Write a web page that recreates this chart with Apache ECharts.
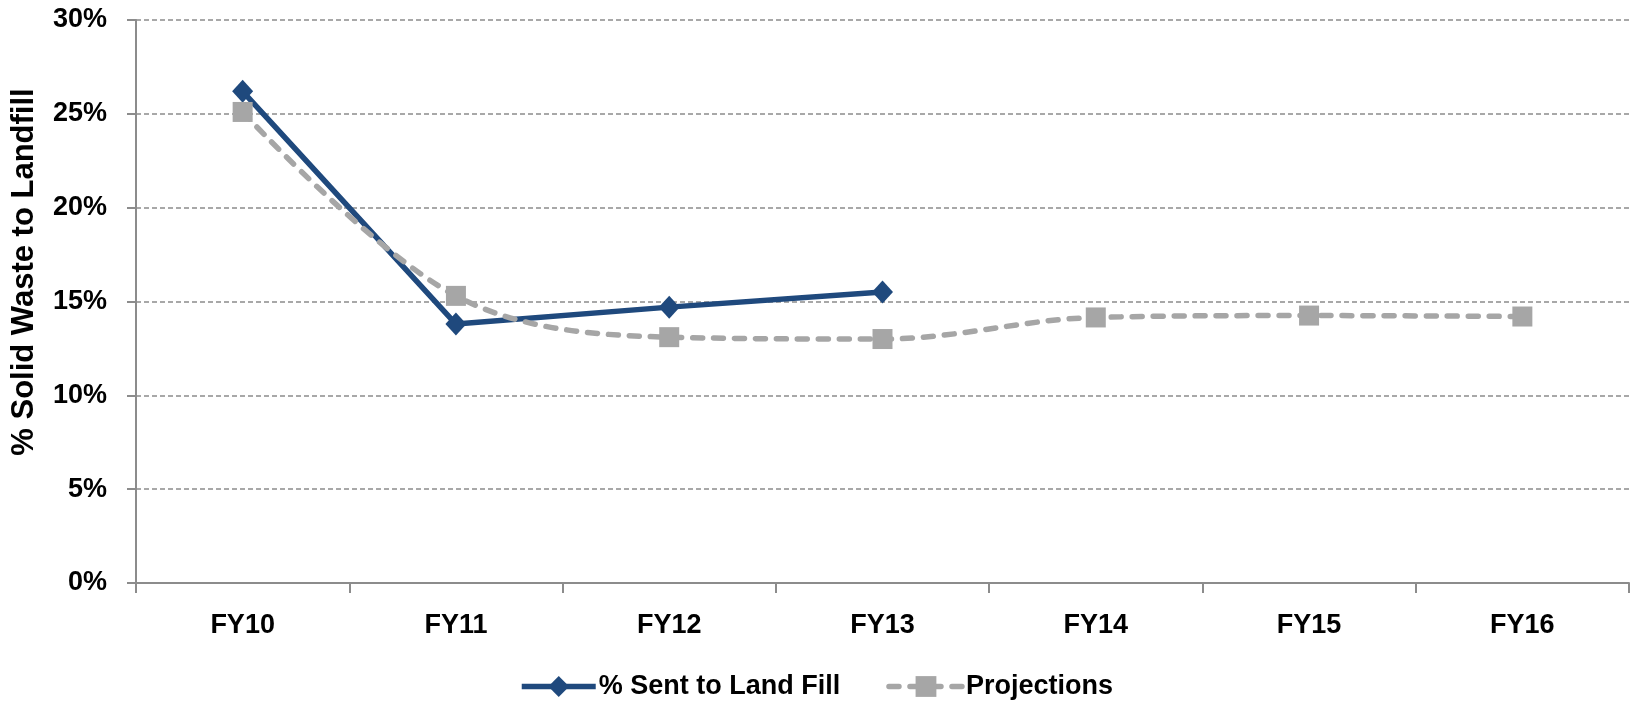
<!DOCTYPE html>
<html>
<head>
<meta charset="utf-8">
<script src="https://cdn.jsdelivr.net/npm/echarts@6/dist/echarts.min.js"></script>
<style>
  html, body { margin: 0; padding: 0; background: #ffffff; }
  #chart { width: 1632px; height: 701px; }
</style>
</head>
<body>
<div id="chart"></div>
<script>
// Fiscal years on the category axis
const categories = ['FY10', 'FY11', 'FY12', 'FY13', 'FY14', 'FY15', 'FY16'];
// Actual share of solid waste sent to landfill (%)
const sentToLandfill = [26.2, 13.8, 14.7, 15.5, null, null, null];
// Projected share (%)
const projections = [25.1, 15.3, 13.1, 13.0, 14.15, 14.25, 14.2];
// Value axis range (%)
const yMin = 0, yMax = 30, yStep = 5;

const FONT = "'Liberation Sans Narrow', 'Liberation Sans', Arial, sans-serif";
const BLUE = '#1f497d';
const GREY = '#a6a6a6';
const AXIS = '#8c8c8c';

const blueLine = { color: BLUE, width: 5.5 };
const greyLine = { color: GREY, width: 5.5, type: [10, 11], cap: 'round' };

const chart = echarts.init(document.getElementById('chart'), null, { renderer: 'canvas' });
chart.setOption({
  backgroundColor: '#ffffff',
  animation: false,
  grid: { left: 136, right: 3, top: 20, bottom: 118, containLabel: false },
  xAxis: {
    type: 'category',
    data: categories,
    boundaryGap: true,
    axisLine: { show: true, lineStyle: { color: AXIS, width: 2 } },
    axisTick: { show: true, alignWithLabel: false, length: 10, lineStyle: { color: AXIS, width: 2 } },
    axisLabel: { color: '#000', fontFamily: FONT, fontWeight: 'bold', fontSize: 27, margin: 29 },
    splitLine: { show: false }
  },
  yAxis: {
    type: 'value',
    min: yMin, max: yMax, interval: yStep,
    axisLine: { show: true, lineStyle: { color: AXIS, width: 2 } },
    axisTick: { show: true, length: 9, lineStyle: { color: AXIS, width: 2 } },
    axisLabel: { color: '#000', fontFamily: FONT, fontWeight: 'bold', fontSize: 27, margin: 29, formatter: '{value}%' },
    splitLine: { show: true, lineStyle: { color: AXIS, width: 1.5, type: [5, 3] } }
  },
  legend: {
    top: 668,
    left: 'center',
    itemGap: 46,
    itemWidth: 74,
    itemHeight: 26,
    textStyle: { color: '#000', fontFamily: FONT, fontWeight: 'bold', fontSize: 27, padding: [0, 0, 0, -2] },
    data: [
      { name: '% Sent to Land Fill', lineStyle: blueLine },
      { name: 'Projections', lineStyle: greyLine }
    ]
  },
  graphic: [{
    type: 'text',
    x: 24, y: 272,
    rotation: Math.PI / 2,
    style: {
      text: '% Solid Waste to Landfill',
      fill: '#000',
      font: "bold 31px " + FONT,
      textAlign: 'center',
      textVerticalAlign: 'middle'
    }
  }],
  series: [
    {
      name: '% Sent to Land Fill',
      type: 'line',
      data: sentToLandfill,
      z: 2,
      symbol: 'diamond',
      symbolSize: [21, 23],
      itemStyle: { color: BLUE },
      lineStyle: blueLine,
      connectNulls: false
    },
    {
      name: 'Projections',
      type: 'line',
      data: projections,
      z: 3,
      smooth: 0.35,
      symbol: 'rect',
      symbolSize: 20,
      itemStyle: { color: GREY },
      lineStyle: greyLine
    }
  ]
});
</script>
</body>
</html>
